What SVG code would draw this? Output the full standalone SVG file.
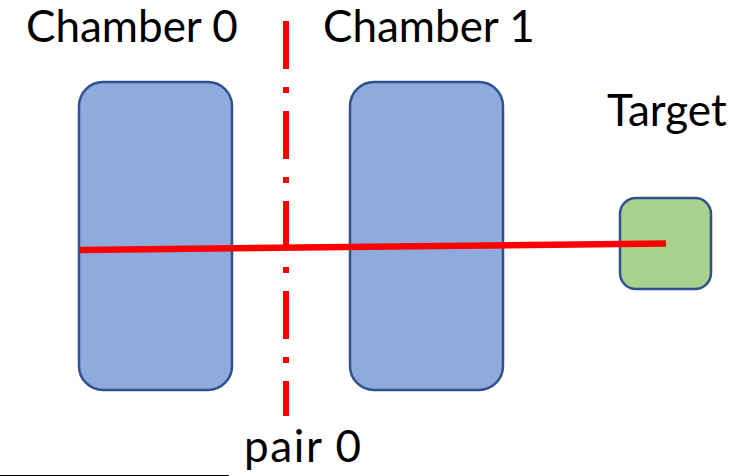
<svg xmlns="http://www.w3.org/2000/svg" width="743" height="476" viewBox="0 0 743 476">
  <style>
    .label { font-family: Lato, "Open Sans", "Liberation Sans", sans-serif; font-size: 44px; fill: #000; }
    .chamber { fill: #8FAADC; stroke: #2F528F; stroke-width: 2.5; }
    .target { fill: #A9D18E; stroke: #2F528F; stroke-width: 2.5; }
    .beam { stroke: #FF0000; stroke-width: 6.5; fill: none; }
    .pairline { stroke: #FF0000; stroke-width: 6; fill: none; stroke-dasharray: 48 18 6 18; }
  </style>
  <rect width="743" height="476" fill="#FFFFFF"/>

  <g id="chamber0">
    <rect class="chamber" x="79" y="82" width="153" height="308" rx="24" ry="24"/>
    <text class="label" x="26" y="42">Chamber 0</text>
  </g>

  <g id="chamber1">
    <rect class="chamber" x="350" y="82" width="153" height="308" rx="24" ry="24"/>
    <text class="label" x="323" y="42">Chamber 1</text>
  </g>

  <g id="target">
    <rect class="target" x="620" y="198" width="91" height="91" rx="16" ry="16"/>
    <text class="label" x="607" y="126">Target</text>
  </g>

  <g id="pair0">
    <line class="pairline" x1="286" y1="21" x2="286" y2="416"/>
    <text class="label" x="244" y="462" textLength="117" lengthAdjust="spacing">pair 0</text>
  </g>

  <g id="connectors">
    <line class="beam" x1="80" y1="250" x2="666" y2="243.5"/>
  </g>

  <line x1="0" y1="475.5" x2="229" y2="475.5" stroke="#000" stroke-width="1.2"/>
</svg>
